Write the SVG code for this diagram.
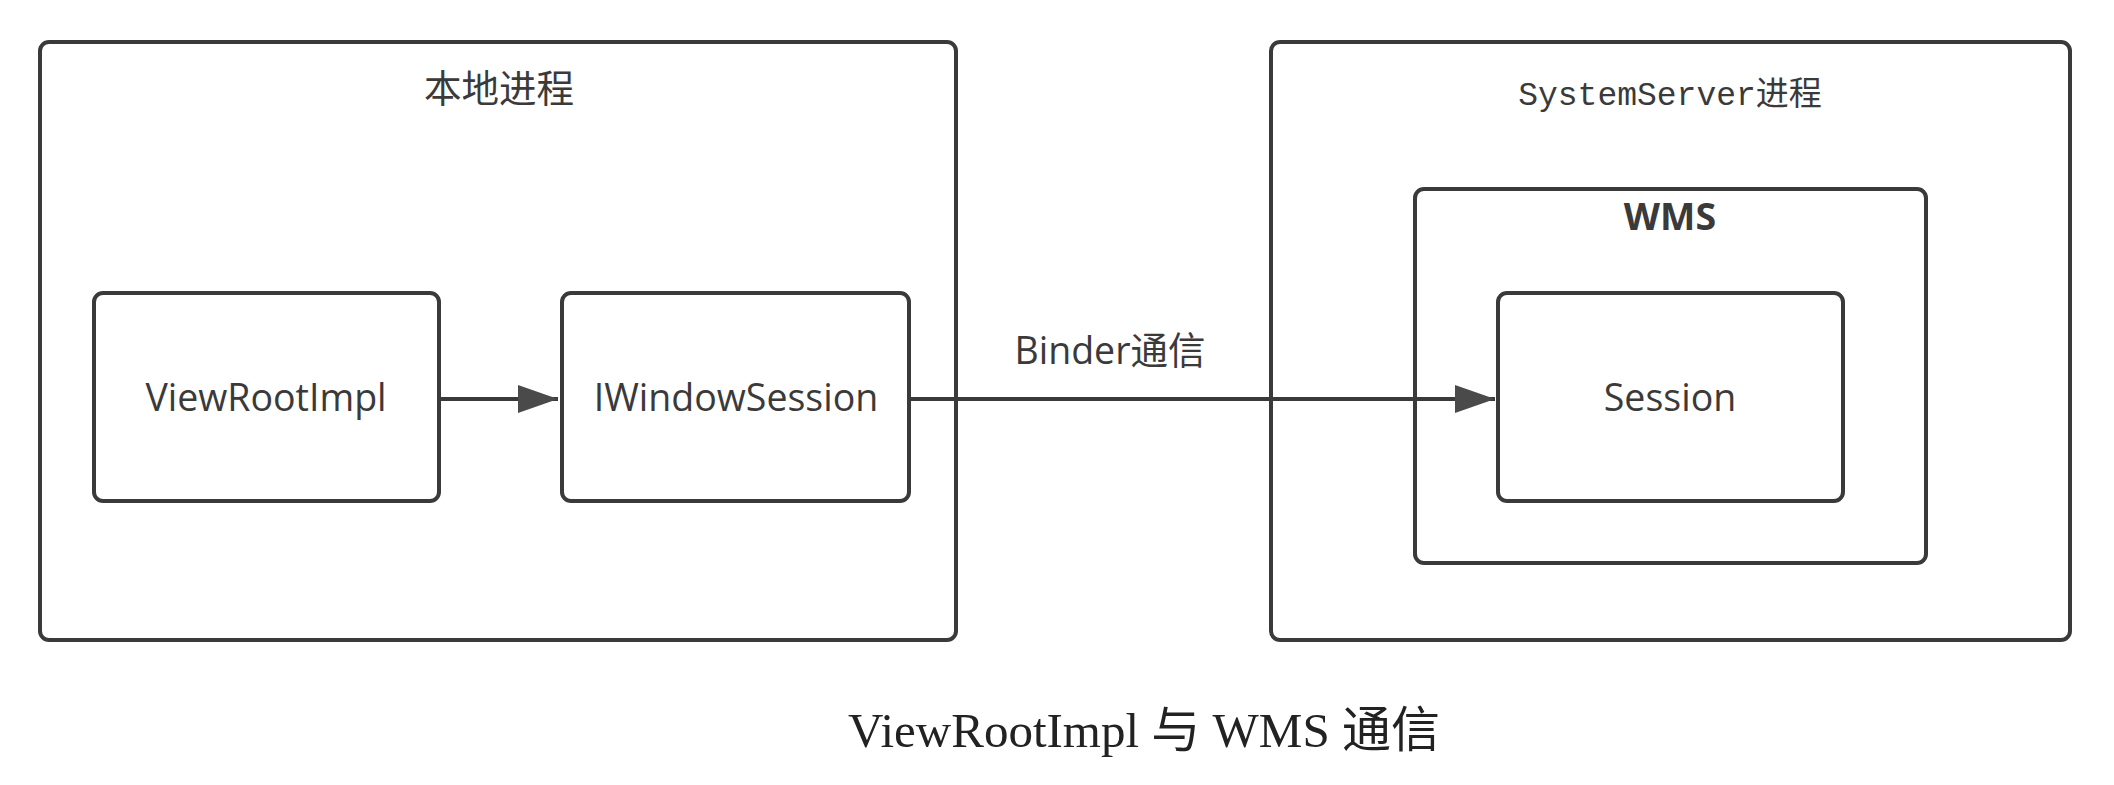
<svg xmlns="http://www.w3.org/2000/svg" width="2114" height="785" viewBox="0 0 2114 785">
<style>
.box{fill:none;stroke:#3a3a3a;stroke-width:4}
.lbl{font-family:"Open Sans","Noto Sans CJK SC",sans-serif;font-size:37.5px;fill:#3a3a3a;text-anchor:middle}
.mono{font-family:"Liberation Mono","Noto Sans CJK SC",monospace;font-size:33px;fill:#3a3a3a;text-anchor:middle}
.edge{stroke:#3a3a3a;stroke-width:4;fill:none}
.cap{font-family:"Liberation Serif","Noto Sans CJK SC",serif;font-size:49px;fill:#222;text-anchor:middle}
</style>
<defs>
<marker id="arr" markerUnits="userSpaceOnUse" markerWidth="42" markerHeight="30" refX="40" refY="14" orient="auto">
<path d="M0,0 L40,14 L0,28 Z" fill="#4a4a4a"/>
</marker>
</defs>
<rect width="2114" height="785" fill="#fff"/>
<g id="local-process">
<rect class="box" x="40" y="42" width="916" height="598" rx="9"/>
<text class="lbl" x="499" y="102" font-size="40">本地进程</text>
</g>
<g id="systemserver-process">
<rect class="box" x="1271" y="42" width="799" height="598" rx="9"/>
<text class="mono" x="1670" y="105">SystemServer进程</text>
</g>
<g id="wms">
<rect class="box" x="1415" y="189" width="511" height="374" rx="9"/>
<text class="lbl" x="1670" y="230" font-size="40" font-weight="bold">WMS</text>
</g>
<g id="viewrootimpl">
<rect class="box" x="94" y="293" width="345" height="208" rx="9"/>
<text class="lbl" x="266" y="411" font-size="38.5">ViewRootImpl</text>
</g>
<g id="iwindowsession">
<rect class="box" x="562" y="293" width="347" height="208" rx="9"/>
<text class="lbl" x="736" y="411">IWindowSession</text>
</g>
<g id="session">
<rect class="box" x="1498" y="293" width="345" height="208" rx="9"/>
<text class="lbl" x="1670" y="411">Session</text>
</g>
<g id="connectors">
<line class="edge" x1="441" y1="399" x2="558" y2="399" marker-end="url(#arr)"/>
<line class="edge" x1="911" y1="399" x2="1495" y2="399" marker-end="url(#arr)"/>
<text class="lbl" x="1110" y="364" font-size="34">Binder通信</text>
</g>
<text class="cap" x="1144" y="747">ViewRootImpl 与 WMS 通信</text>
</svg>
